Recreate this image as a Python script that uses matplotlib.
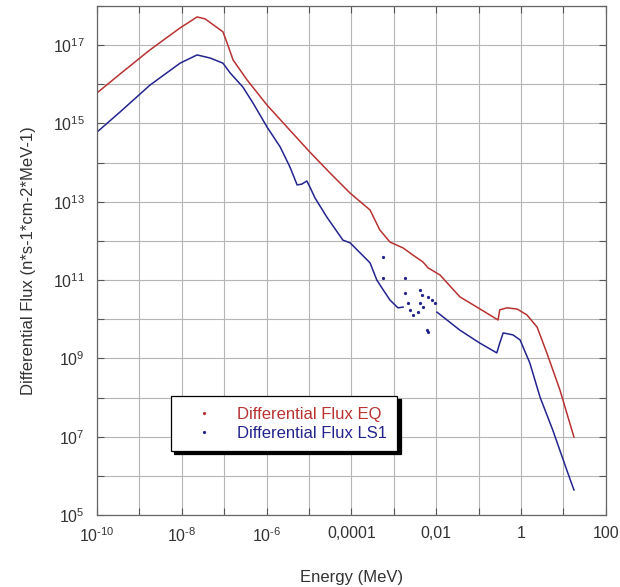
"""Differential neutron flux spectra: EQ vs LS1 (log-log)."""

import matplotlib
matplotlib.use("Agg")
import matplotlib.pyplot as plt
import numpy as np
from matplotlib.lines import Line2D

plt.rcParams["font.family"] = ["Liberation Sans", "DejaVu Sans"]
plt.rcParams["mathtext.fontset"] = "custom"
plt.rcParams["mathtext.rm"] = "Liberation Sans"
plt.rcParams["mathtext.it"] = "Liberation Sans"

# values, as log10 (energy in MeV, flux)
eq_log_e = [-10.00, -9.46, -8.75, -8.04, -7.64, -7.45, -7.22, -7.03, -6.93,
            -6.79, -6.46, -5.99, -5.52, -4.98, -4.50, -4.03, -3.56, -3.33,
            -3.09, -2.78, -2.55, -2.31, -2.19, -1.91, -1.44, -1.04, -0.54,
            -0.50, -0.33, -0.09, 0.14, 0.38, 0.61, 0.92, 1.25]
eq_log_f = [15.78, 16.26, 16.88, 17.44, 17.72, 17.67, 17.49, 17.34, 17.05,
            16.62, 16.11, 15.47, 14.91, 14.27, 13.73, 13.22, 12.79, 12.28,
            11.97, 11.82, 11.64, 11.46, 11.31, 11.13, 10.57, 10.31, 9.98,
            10.24, 10.29, 10.26, 10.11, 9.80, 9.14, 8.19, 6.99]

ls1_log_e = [-10.00, -9.46, -8.75, -8.04, -7.64, -7.33, -7.03, -6.86, -6.56,
             -6.32, -5.99, -5.68, -5.45, -5.28, -5.17, -5.05, -4.98, -4.86,
             -4.58, -4.20, -4.03, -3.56, -3.40, -3.25, -3.09, -2.90, -2.78,
             np.nan,
             -1.98, -1.44, -0.97, -0.57, -0.50, -0.42, -0.19, -0.02, 0.21,
             0.45, 0.75, 1.08, 1.25]
ls1_log_f = [14.78, 15.29, 15.98, 16.54, 16.75, 16.67, 16.54, 16.29, 15.93,
             15.52, 14.91, 14.40, 13.89, 13.43, 13.45, 13.53, 13.38, 13.10,
             12.61, 12.02, 11.95, 11.44, 11.00, 10.75, 10.49, 10.29, 10.31,
             np.nan,
             10.18, 9.72, 9.39, 9.14, 9.39, 9.65, 9.60, 9.47, 8.88,
             8.01, 7.17, 6.15, 5.64]

# stray LS1 points around 1e-3 .. 1e-2 MeV
ls1_stray_log_e = [-3.25, -3.25, -2.74, -2.74, -2.67, -2.62, -2.55, -2.38,
                   -2.33, -2.38, -2.31, -2.43, -2.19, -2.10, -2.03, -2.22, -2.19]
ls1_stray_log_f = [11.59, 11.05, 11.05, 10.67, 10.41, 10.23, 10.11, 10.75,
                   10.62, 10.41, 10.31, 10.18, 10.57, 10.49, 10.41, 9.72, 9.67]

x_decades = list(range(-10, 3))
x_labels = ["$10^{‐10}$", "", "$10^{‐8}$", "", "$10^{‐6}$", "", "0,0001", "",
            "0,01", "", "1", "", "100"]
y_decades = list(range(5, 19))
y_labels = ["$10^{%d}$" % d if d % 2 == 1 and d < 18 else "" for d in y_decades]

RED = "#b83232"
BLUE = "#24248f"


def main():
    fig = plt.figure(figsize=(6.2, 5.87), dpi=100)
    ax = fig.add_axes([0.1565, 0.1227, 0.8205, 0.8671])

    ax.plot(10.0 ** np.array(eq_log_e), 10.0 ** np.array(eq_log_f),
            color=RED, lw=1.1)
    ax.plot(10.0 ** np.array(ls1_log_e), 10.0 ** np.array(ls1_log_f),
            color=BLUE, lw=1.1)
    ax.plot(10.0 ** np.array(ls1_stray_log_e), 10.0 ** np.array(ls1_stray_log_f),
            ls="none", marker="o", ms=1.3, color=BLUE)

    ax.set_xscale("log")
    ax.set_yscale("log")
    ax.set_xlim(1e-10, 1e2)
    ax.set_ylim(1e5, 1e18)
    ax.set_xticks([10.0 ** d for d in x_decades], x_labels)
    ax.set_yticks([10.0 ** d for d in y_decades], y_labels)
    ax.minorticks_off()
    ax.tick_params(direction="in", length=5, width=0.8, color="#555555",
                   top=True, right=True, labelsize=11.5, labelcolor="#333333")
    ax.tick_params(axis="x", pad=8)
    ax.tick_params(axis="y", pad=9)
    ax.grid(True, color="#b5b5b5", lw=0.8)
    for s in ax.spines.values():
        s.set_color("#666666")
        s.set_linewidth(0.9)

    ax.set_xlabel("Energy (MeV)", fontsize=12, color="#333333", labelpad=18)
    ax.set_ylabel("Differential Flux (n*s-1*cm-2*MeV-1)", fontsize=12,
                  color="#333333", labelpad=12)

    handles = [Line2D([], [], ls="none", marker="o", ms=1.3, color=RED),
               Line2D([], [], ls="none", marker="o", ms=1.3, color=BLUE)]
    leg = ax.legend(handles, ["Differential Flux EQ", "Differential Flux LS1"],
                    loc="upper left", bbox_to_anchor=(0.145, 0.233),
                    borderaxespad=0, fontsize=12, frameon=True, fancybox=False,
                    shadow={"color": "black", "alpha": 1.0, "ox": 2.2, "oy": -2.2},
                    borderpad=0.65, labelspacing=0.2, handlelength=2.7,
                    handletextpad=0.6, edgecolor="black")
    leg.get_frame().set_linewidth(0.9)
    for t, c in zip(leg.get_texts(), [RED, BLUE]):
        t.set_color(c)

    fig.savefig("out.png", dpi=100)
    plt.close(fig)


if __name__ == "__main__":
    main()
